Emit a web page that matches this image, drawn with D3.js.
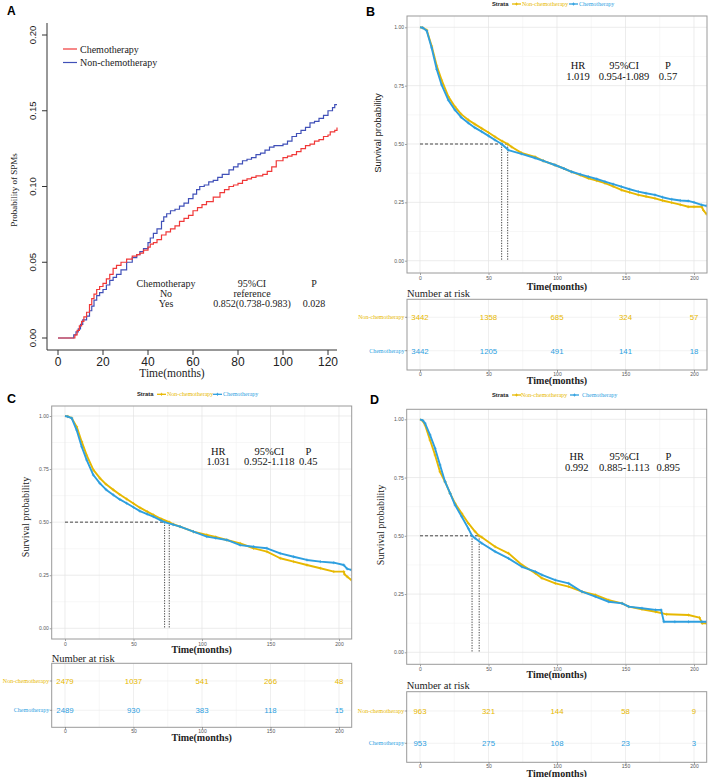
<!DOCTYPE html>
<html><head><meta charset="utf-8">
<script src="https://cdn.jsdelivr.net/npm/d3@7"></script>
<style>body{margin:0;background:#fff}</style>
</head><body>
<svg id="c" width="709" height="777" xmlns="http://www.w3.org/2000/svg"></svg>
<script>
// ---------------- DATA ----------------
// Panel A: cumulative incidence of SPMs (step functions)
const A_time_chemo = [0,7.5,8.5,9.5,10.5,11.5,12.7,14,15,16,17.2,18.5,20,21.5,23,24.5,26,28,30.5,33,35,36.4,38,40,41,42.4,44,46,48,50,52,54,56,58,60,62,64,66,69,72,74,76,78,80,82,84,86,88,91,93,95,97,100,102,104,106,108,110,112,114,116,118,120,121,123,124];
const A_cum_chemo  = [0,0.002,0.005,0.008,0.011,0.014,0.017,0.022,0.026,0.029,0.032,0.034,0.036,0.039,0.042,0.046,0.048,0.050,0.052,0.054,0.055,0.056,0.058,0.060,0.062,0.063,0.065,0.068,0.070,0.072,0.074,0.077,0.079,0.081,0.084,0.086,0.088,0.090,0.093,0.096,0.098,0.100,0.101,0.102,0.104,0.105,0.106,0.107,0.108,0.110,0.113,0.117,0.119,0.120,0.121,0.123,0.125,0.127,0.128,0.130,0.131,0.133,0.134,0.136,0.137,0.139];
const A_time_non = [0,7,8,9,10,11,12.7,14,15,16,17.2,18.5,20,21.5,23,24.5,26,28,30.5,33,35,36.4,38,40,41,42.4,44,46,47,48.3,50,52,54,56,58,60,61.6,63,65,67,69,71,73,76,78,80,82,84,86,88,90,92,94,96,98,100,102,104,106,108,110,112,114,116,118,120,122,123,124];
const A_cum_non  = [0,0.002,0.004,0.006,0.009,0.012,0.0145,0.018,0.021,0.025,0.028,0.030,0.032,0.035,0.038,0.040,0.042,0.045,0.050,0.053,0.055,0.057,0.059,0.063,0.066,0.069,0.072,0.077,0.080,0.082,0.084,0.085,0.087,0.089,0.092,0.095,0.098,0.100,0.101,0.103,0.104,0.106,0.108,0.111,0.113,0.115,0.117,0.118,0.119,0.121,0.122,0.124,0.126,0.127,0.127,0.128,0.130,0.133,0.135,0.137,0.139,0.142,0.143,0.145,0.147,0.150,0.152,0.154,0.154];
const A_xTicks = [0,20,40,60,80,100,120];
const A_yTicks = [0,0.05,0.10,0.15,0.20];
const A_legend = ["Chemotherapy","Non-chemotherapy"];
const A_tableCols = ["Chemotherapy","95%CI","P"];
const A_tableRow1 = ["No","reference",""];
const A_tableRow2 = ["Yes","0.852(0.738-0.983)","0.028"];

// Panel B
const B_time_non  = [0,2,4.9,8.5,12.2,15.8,20.7,25.5,30,35.3,40,45,50,54.7,60,64,67,74,84,90,98.5,105,110.7,117,122.9,129,135,141,147,153,159.4,165,171.5,177,183.7,190,195.8,200,205.6,207,209];
const B_surv_non  = [1,0.998,0.988,0.92,0.835,0.774,0.703,0.66,0.628,0.603,0.585,0.567,0.549,0.531,0.512,0.5,0.487,0.462,0.445,0.428,0.41,0.395,0.381,0.367,0.353,0.343,0.332,0.318,0.303,0.293,0.282,0.275,0.267,0.258,0.249,0.24,0.231,0.231,0.231,0.215,0.2];
const B_time_chemo = [0,2,4.9,8.5,12.2,15.8,20.7,25.5,30,35.3,40,45,50,54.7,59.6,64.5,74,84,90,98.5,105,110.7,117,122.9,129,135,141,147,153,159.4,165,171.5,177,183.7,190,195.8,200,205.6,209];
const B_surv_chemo = [1,0.998,0.985,0.912,0.82,0.753,0.688,0.646,0.615,0.59,0.57,0.553,0.535,0.517,0.5,0.474,0.458,0.44,0.428,0.41,0.395,0.381,0.37,0.36,0.35,0.339,0.328,0.317,0.306,0.296,0.289,0.282,0.272,0.263,0.258,0.256,0.25,0.239,0.235];
const B_medians = [59.6, 64];
const B_stats = ["1.019","0.954-1.089","0.57"];
const B_risk_non = [3442,1358,685,324,57];
const B_risk_chemo = [3442,1205,491,141,18];

// Panel C
const C_time_non  = [0,2,4.9,8.5,12.2,15.8,20.7,25.5,30,35.3,40,45,50,54.7,60,64.5,70,76.1,79,84,93.8,103.5,110,118.1,127.9,137.6,147.4,157.1,166.9,176.6,186.4,196.2,203.5,204,206,209];
const C_surv_non  = [1,0.998,0.99,0.95,0.879,0.816,0.746,0.707,0.678,0.652,0.63,0.609,0.588,0.568,0.55,0.534,0.516,0.5,0.49,0.479,0.455,0.44,0.43,0.416,0.40,0.377,0.361,0.33,0.314,0.298,0.283,0.267,0.267,0.255,0.243,0.228];
const C_time_chemo = [0,2,4.9,8.5,12.2,15.8,20.7,25.5,30,35.3,40,45,50,54.7,60,64.5,70,72.7,79,84,93.8,103.5,110,118.1,127.9,137.6,147.4,157.1,166.9,176.6,186.4,196.2,203.5,206,209];
const C_surv_chemo = [1,0.997,0.99,0.934,0.855,0.793,0.722,0.683,0.653,0.628,0.607,0.589,0.57,0.552,0.538,0.526,0.508,0.5,0.488,0.479,0.455,0.432,0.425,0.416,0.392,0.384,0.377,0.353,0.337,0.322,0.314,0.309,0.298,0.28,0.275];
const C_medians = [72.7, 76.1];
const C_stats = ["1.031","0.952-1.118","0.45"];
const C_risk_non = [2479,1037,541,266,48];
const C_risk_chemo = [2489,930,383,118,15];

// Panel D
const D_time_non  = [0,2,3.7,7.3,11,14.6,18.3,22,25.6,30.5,35.4,40.2,43.2,45.1,54.9,64.6,74.4,84.2,89,98.8,108.5,118.3,128,137.8,147.5,152.4,162,172,177,180,196,204,206,209];
const D_surv_non  = [1,0.993,0.976,0.911,0.847,0.775,0.732,0.682,0.639,0.596,0.553,0.518,0.5,0.494,0.453,0.425,0.375,0.339,0.318,0.296,0.282,0.26,0.246,0.224,0.21,0.196,0.185,0.174,0.167,0.163,0.16,0.149,0.124,0.124];
const D_time_chemo = [0,2,3.7,7.3,11,14.6,18.3,22,25.6,30.5,35.4,38,40.2,45.1,54.9,64.6,74.4,84.2,89,98.8,108.5,118.3,128,137.8,147.5,152.4,162,172,176,178,186,196,205.8,209];
const D_surv_chemo = [1,0.995,0.983,0.933,0.875,0.804,0.732,0.682,0.632,0.582,0.53,0.5,0.49,0.468,0.432,0.403,0.367,0.346,0.332,0.31,0.296,0.26,0.239,0.217,0.21,0.196,0.189,0.182,0.182,0.131,0.131,0.131,0.131,0.131];
const D_medians = [38, 43.2];
const D_stats = ["0.992","0.885-1.113","0.895"];
const D_risk_non = [963,321,144,58,9];
const D_risk_chemo = [953,275,108,23,3];

const KM_xTicks = [0,50,100,150,200];
const KM_xMinor = [25,75,125,175];
const KM_yTicks = [0,0.25,0.5,0.75,1];
const KM_yMinor = [0.125,0.375,0.625,0.875];
const KM_strata = ["Non-chemotherapy","Chemotherapy"];
const KM_statHead = ["HR","95%CI","P"];

// ---------------- DRAW ----------------
const svg = d3.select('#c');
const SERIF = '"Liberation Serif","Times New Roman",serif';
const SANS = '"Liberation Sans",Arial,sans-serif';
const ORANGE = '#E7B800', BLUE = '#2E9FDF';

// ===== Panel A =====
(function(){
  const g = svg.append('g');
  const x = d3.scaleLinear().domain([0,120]).range([58,328]);
  const y = d3.scaleLinear().domain([0,0.2]).range([338,35]);
  g.append('text').text('A').attr('x',7).attr('y',15).attr('font-family',SANS).attr('font-weight','bold').attr('font-size',12);
  g.append('path').attr('d','M47,23V350H337').attr('fill','none').attr('stroke','#333').attr('stroke-width',1);
  g.selectAll('.xt').data(A_xTicks).join('line').attr('x1',d=>x(d)).attr('x2',d=>x(d)).attr('y1',350).attr('y2',355).attr('stroke','#333');
  g.selectAll('.xl').data(A_xTicks).join('text').text(d=>d).attr('x',d=>x(d)).attr('y',365.5)
    .attr('text-anchor','middle').attr('font-family',SANS).attr('font-size',12).attr('fill','#222');
  g.selectAll('.yt').data(A_yTicks).join('line').attr('x1',42).attr('x2',47).attr('y1',d=>y(d)).attr('y2',d=>y(d)).attr('stroke','#333');
  g.selectAll('.yl').data(A_yTicks).join('text').text(d=>d3.format('.2f')(d))
    .attr('transform',d=>`translate(36,${y(d)}) rotate(-90)`).attr('text-anchor','middle')
    .attr('font-family',SANS).attr('font-size',9.5).attr('fill','#222');
  g.append('text').text('Probability of SPMs').attr('transform','translate(17,190) rotate(-90)')
    .attr('text-anchor','middle').attr('font-family',SERIF).attr('font-size',9).attr('fill','#222');
  g.append('text').text('Time(months)').attr('x',172).attr('y',376.5).attr('text-anchor','middle')
    .attr('font-family',SERIF).attr('font-size',11.5).attr('fill','#222');
  const line = d3.line().x(d=>x(d[0])).y(d=>y(d[1])).curve(d3.curveStepAfter);
  const blue = A_time_non.map((t,i)=>[t,A_cum_non[i]]);
  const red = A_time_chemo.map((t,i)=>[t,A_cum_chemo[i]]);
  g.append('path').attr('d',line(blue)).attr('fill','none').attr('stroke','#4050B8').attr('stroke-width',1.2);
  g.append('path').attr('d',line(red)).attr('fill','none').attr('stroke','#F03838').attr('stroke-width',1.2);
  // legend
  const lc = ['#F03838','#4050B8'];
  A_legend.forEach((s,i)=>{
    const yy = 49 + i*13.5;
    g.append('line').attr('x1',63).attr('x2',77).attr('y1',yy).attr('y2',yy).attr('stroke',lc[i]).attr('stroke-width',1.2);
    g.append('text').text(s).attr('x',80).attr('y',yy+3.5).attr('font-family',SERIF).attr('font-size',10).attr('fill','#222');
  });
  // table
  const cx = [166,252,314];
  [A_tableCols,A_tableRow1,A_tableRow2].forEach((row,r)=>{
    row.forEach((s,j)=>{
      g.append('text').text(s).attr('x',cx[j]).attr('y',286.5+r*10).attr('text-anchor','middle')
        .attr('font-family',SERIF).attr('font-size',10).attr('fill','#222');
    });
  });
})();

// ===== KM panels =====
function drawKM(c){
  const g = svg.append('g');
  const x = d3.scaleLinear().domain([0,200]).range([c.x0,c.x200]);
  const y = d3.scaleLinear().domain([0,1]).range([c.y0,c.y1]);
  const clipId = 'clip'+c.id;
  svg.append('defs').append('clipPath').attr('id',clipId).append('rect')
    .attr('x',c.L).attr('y',c.T).attr('width',c.R-c.L).attr('height',c.B-c.T);

  g.append('text').text(c.id).attr('x',c.labX).attr('y',c.labY).attr('font-family',SANS).attr('font-weight','bold').attr('font-size',12.5);

  // legend
  const lg = g.append('g');
  lg.append('text').text('Strata').attr('x',c.legX).attr('y',c.legY+2).attr('font-family',SANS).attr('font-weight','bold').attr('font-size',5.8).attr('fill','#222');
  const legCol=[ORANGE,BLUE];
  c.legItems.forEach((it,i)=>{
    lg.append('line').attr('x1',it[0]).attr('x2',it[0]+9).attr('y1',c.legY).attr('y2',c.legY).attr('stroke',legCol[i]).attr('stroke-width',1.3);
    lg.append('path').attr('d',`M${it[0]+4.5-1.5},${c.legY}h3M${it[0]+4.5},${c.legY-1.5}v3`).attr('stroke',legCol[i]).attr('stroke-width',0.8);
    lg.append('text').text(KM_strata[i]).attr('x',it[1]).attr('y',c.legY+2).attr('font-family',SERIF).attr('font-size',6).attr('fill',legCol[i]);
  });

  // panel grid
  g.append('rect').attr('x',c.L).attr('y',c.T).attr('width',c.R-c.L).attr('height',c.B-c.T).attr('fill','#fff');
  g.selectAll(null).data(KM_xMinor).join('line').attr('x1',d=>x(d)).attr('x2',d=>x(d)).attr('y1',c.T).attr('y2',c.B).attr('stroke','#F2F2F2').attr('stroke-width',0.6);
  g.selectAll(null).data(KM_yMinor).join('line').attr('y1',d=>y(d)).attr('y2',d=>y(d)).attr('x1',c.L).attr('x2',c.R).attr('stroke','#F2F2F2').attr('stroke-width',0.6);
  g.selectAll(null).data(KM_xTicks).join('line').attr('x1',d=>x(d)).attr('x2',d=>x(d)).attr('y1',c.T).attr('y2',c.B).attr('stroke','#E4E4E4').attr('stroke-width',0.7);
  g.selectAll(null).data(KM_yTicks).join('line').attr('y1',d=>y(d)).attr('y2',d=>y(d)).attr('x1',c.L).attr('x2',c.R).attr('stroke','#E4E4E4').attr('stroke-width',0.7);

  // axes
  const xa = g.append('g').attr('transform',`translate(0,${c.B})`).call(d3.axisBottom(x).tickValues(KM_xTicks).tickSize(2).tickPadding(1));
  const ya = g.append('g').attr('transform',`translate(${c.L},0)`).call(d3.axisLeft(y).tickValues(KM_yTicks).tickFormat(d3.format('.2f')).tickSize(2).tickPadding(1));
  [xa,ya].forEach(a=>{a.select('.domain').remove(); a.selectAll('line').attr('stroke','#444').attr('stroke-width',0.5);
    a.selectAll('text').attr('font-family',SANS).attr('font-size',5).attr('fill','#555');});

  // median lines
  const mg = g.append('g').attr('stroke','#333').attr('stroke-width',0.9).attr('fill','none');
  mg.append('line').attr('x1',x(0)).attr('x2',x(d3.max(c.medians))).attr('y1',y(0.5)).attr('y2',y(0.5)).attr('stroke-dasharray','3,2');
  mg.selectAll(null).data(c.medians).join('line').attr('x1',d=>x(d)).attr('x2',d=>x(d)).attr('y1',y(0.5)).attr('y2',y(0)).attr('stroke-dasharray','1.3,1.3');

  // curves
  const line = d3.line().x(d=>x(d[0])).y(d=>y(d[1]));
  const cg = g.append('g').attr('clip-path',`url(#${clipId})`);
  const series = [
    {t:c.tNon,s:c.sNon,col:ORANGE},
    {t:c.tChemo,s:c.sChemo,col:BLUE}
  ];
  [0,1].forEach(k=>{
    const sr = series[k];
    const pts = sr.t.map((t,i)=>[t,sr.s[i]]);
    cg.append('path').attr('d',line(pts)).attr('fill','none').attr('stroke',sr.col).attr('stroke-width',1.9).attr('stroke-linejoin','round');
    cg.selectAll(null).data(pts.slice(1)).join('path')
      .attr('d',d=>`M${x(d[0])-1.5},${y(d[1])}h3M${x(d[0])},${y(d[1])-1.5}v3`)
      .attr('stroke',sr.col).attr('stroke-width',0.7);
  });
  // panel border
  g.append('rect').attr('x',c.L).attr('y',c.T).attr('width',c.R-c.L).attr('height',c.B-c.T).attr('fill','none').attr('stroke','#9A9A9A').attr('stroke-width',1);

  // stats text
  const st = [KM_statHead, c.stats];
  st.forEach((row,r)=>row.forEach((s,j)=>{
    g.append('text').text(s).attr('x',c.statX[j]).attr('y',c.statY[r]+3.5).attr('text-anchor','middle')
      .attr('font-family',SERIF).attr('font-size',10.5).attr('fill','#111');
  }));

  // titles
  g.append('text').text('Survival probability').attr('transform',`translate(${c.ytX},${c.ytY}) rotate(-90)`)
    .attr('text-anchor','middle').attr('font-family',c.ytFont).attr('font-size',c.ytSize).attr('fill','#222');
  g.append('text').text('Time(months)').attr('x',(c.L+c.R)/2).attr('y',c.xtY+4.5).attr('text-anchor','middle')
    .attr('font-family',SERIF).attr('font-weight','bold').attr('font-size',10).attr('fill','#222');

  // risk table
  const tg = g.append('g');
  tg.append('text').text('Number at risk').attr('x',c.L).attr('y',c.nrY+3.5).attr('font-family',SERIF).attr('font-size',10.5).attr('fill','#222');
  tg.append('rect').attr('x',c.L).attr('y',c.tT).attr('width',c.R-c.L).attr('height',c.tB-c.tT).attr('fill','#fff');
  tg.selectAll(null).data(KM_xMinor).join('line').attr('x1',d=>x(d)).attr('x2',d=>x(d)).attr('y1',c.tT).attr('y2',c.tB).attr('stroke','#F2F2F2').attr('stroke-width',0.6);
  tg.selectAll(null).data(KM_xTicks).join('line').attr('x1',d=>x(d)).attr('x2',d=>x(d)).attr('y1',c.tT).attr('y2',c.tB).attr('stroke','#E8E8E8').attr('stroke-width',0.7);
  tg.selectAll(null).data(c.rowY).join('line').attr('y1',d=>d).attr('y2',d=>d).attr('x1',c.L).attr('x2',c.R).attr('stroke','#EDEDED').attr('stroke-width',0.7);
  tg.append('rect').attr('x',c.L).attr('y',c.tT).attr('width',c.R-c.L).attr('height',c.tB-c.tT).attr('fill','none').attr('stroke','#9A9A9A').attr('stroke-width',1);
  const rows = [{v:c.rNon,col:ORANGE},{v:c.rChemo,col:BLUE}];
  rows.forEach((r,i)=>{
    const yy = c.rowY[i];
    tg.append('line').attr('x1',c.L-2).attr('x2',c.L).attr('y1',yy).attr('y2',yy).attr('stroke','#444').attr('stroke-width',0.5);
    tg.append('text').text(KM_strata[i]).attr('x',c.L-2.5).attr('y',yy+2).attr('text-anchor','end').attr('font-family',SERIF).attr('font-size',6).attr('fill',r.col);
    tg.selectAll(null).data(KM_xTicks).join('text').text((d,j)=>r.v[j]).attr('x',d=>x(d)).attr('y',yy+2.8)
      .attr('text-anchor','middle').attr('font-family',SANS).attr('font-size',7.8).attr('fill',r.col);
  });
  const ta = tg.append('g').attr('transform',`translate(0,${c.tB})`).call(d3.axisBottom(x).tickValues(KM_xTicks).tickSize(2).tickPadding(0.5));
  ta.select('.domain').remove(); ta.selectAll('line').attr('stroke','#444').attr('stroke-width',0.5);
  ta.selectAll('text').attr('font-family',SANS).attr('font-size',5).attr('fill','#555');
  tg.append('text').text('Time(months)').attr('x',(c.L+c.R)/2).attr('y',c.ttY+4.5).attr('text-anchor','middle')
    .attr('font-family',SERIF).attr('font-weight','bold').attr('font-size',10).attr('fill','#222');
}

drawKM({id:'B', L:407,R:707,T:16,B:273, x0:420,x200:694, y0:260.7,y1:27.3,
  labX:366,labY:16, legX:492,legY:4, legItems:[[512,522],[569,579]],
  tNon:B_time_non,sNon:B_surv_non,tChemo:B_time_chemo,sChemo:B_surv_chemo,
  medians:B_medians, stats:B_stats, statX:[578,624,668], statY:[65,76],
  ytX:381,ytY:133, ytFont:SANS, ytSize:9.5, xtY:285,
  nrY:293.3, tT:299.3,tB:370, rowY:[317.3,350.7], rNon:B_risk_non,rChemo:B_risk_chemo, ttY:379.5});

drawKM({id:'C', L:51.7,R:351.7,T:406,B:639, x0:65,x200:339, y0:628.3,y1:416,
  labX:7,labY:403, legX:137,legY:394.3, legItems:[[157,167],[213,223]],
  tNon:C_time_non,sNon:C_surv_non,tChemo:C_time_chemo,sChemo:C_surv_chemo,
  medians:C_medians, stats:C_stats, statX:[218.3,269.3,308.3], statY:[451,461],
  ytX:29,ytY:517, ytFont:SERIF, ytSize:10, xtY:648.3,
  nrY:658.3, tT:663.3,tB:727.3, rowY:[681,710.3], rNon:C_risk_non,rChemo:C_risk_chemo, ttY:736});

drawKM({id:'D', L:406.7,R:706.7,T:409.3,B:664.3, x0:420,x200:694, y0:652.3,y1:419.3,
  labX:370,labY:404, legX:492,legY:395, legItems:[[512,521],[570,582]],
  tNon:D_time_non,sNon:D_surv_non,tChemo:D_time_chemo,sChemo:D_surv_chemo,
  medians:D_medians, stats:D_stats, statX:[576.7,624.3,668.3], statY:[456.7,467.7],
  ytX:384,ytY:525, ytFont:SERIF, ytSize:10, xtY:673.3,
  nrY:685, tT:691.7,tB:762.3, rowY:[711,743.3], rNon:D_risk_non,rChemo:D_risk_chemo, ttY:772});
</script>
</body></html>
